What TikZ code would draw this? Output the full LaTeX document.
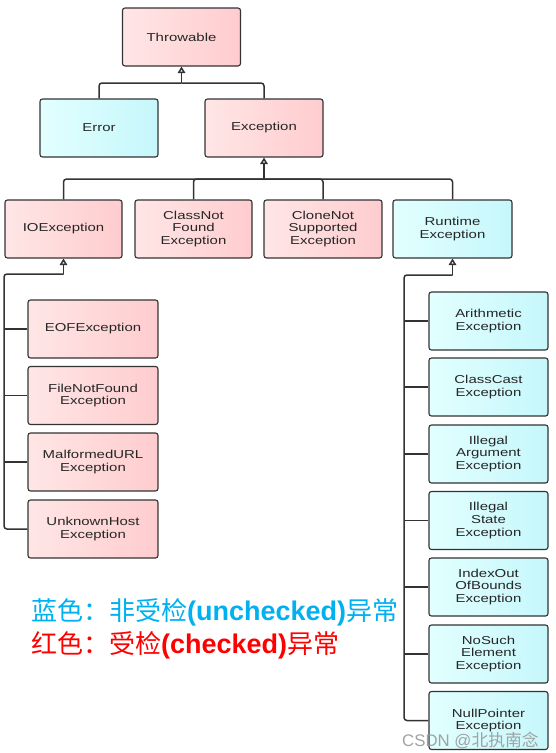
\documentclass[tikz,border=0pt]{standalone}
\usepackage{fontspec}
\setmainfont{Liberation Sans}
\newfontfamily\nodefont{Liberation Sans}[FakeStretch=1.3]
\newfontfamily\legfont{Liberation Sans}
\newfontfamily\cjk{Noto Sans CJK SC}
\usetikzlibrary{arrows.meta}
\definecolor{pinkA}{HTML}{FFE6E6}
\definecolor{pinkB}{HTML}{FFCCCE}
\definecolor{cyanA}{HTML}{E2FFFF}
\definecolor{cyanB}{HTML}{C6F7FB}
\definecolor{edge}{HTML}{333333}
\definecolor{legblue}{HTML}{00B0F0}
\definecolor{legred}{HTML}{FF0000}
\tikzset{
  box/.style={draw=edge, line width=1.1pt, rounded corners=2.5pt, minimum width=#1, minimum height=58pt,
    inner sep=0pt, align=center, text=black!85,
    font=\nodefont\fontsize{11.5}{12.6}\selectfont},
  box/.default=118pt,
  checked/.style={box=#1, left color=pinkA, right color=pinkB},
  checked/.default=118pt,
  unchecked/.style={box=#1, left color=cyanA, right color=cyanB},
  unchecked/.default=118pt,
  conn/.style={draw=edge, line width=1.5pt, rounded corners=3pt},
  inh/.style={conn, -{Triangle[open, width=7.5pt, length=6.5pt, fill=white]}},
}
\begin{document}
\begin{tikzpicture}[x=1pt, y=-1pt]
\useasboundingbox[fill=white] (0,0) rectangle (555,753);
% level 0-1
\node[checked] (throw) at (181.5,37) {Throwable};
\node[unchecked] (error) at (99,128) {Error};
\node[checked] (exc) at (264,128) {Exception};
% level 2
\node[checked=117pt] (io) at (63.5,229) {IOException};
\node[checked=117pt] (cnf) at (193.5,229) {ClassNot\\Found\\Exception};
\node[checked] (cns) at (323,229) {CloneNot\\Supported\\Exception};
\node[unchecked=119pt] (rt) at (452.5,229) {Runtime\\Exception};
% IOException children
\node[checked=130pt] (eof) at (93,329) {EOFException};
\node[checked=130pt] (fnf) at (93,395.5) {FileNotFound\\Exception};
\node[checked=130pt] (murl) at (93,462) {MalformedURL\\Exception};
\node[checked=130pt] (uh) at (93,529) {UnknownHost\\Exception};
% Runtime children
\node[unchecked=119pt] (ar) at (488.5,321) {Arithmetic\\Exception};
\node[unchecked=119pt] (cc) at (488.5,387) {ClassCast\\Exception};
\node[unchecked=119pt] (ia) at (488.5,454) {Illegal\\Argument\\Exception};
\node[unchecked=119pt] (is) at (488.5,520.5) {Illegal\\State\\Exception};
\node[unchecked=119pt] (ioob) at (488.5,587) {IndexOut\\OfBounds\\Exception};
\node[unchecked=119pt] (nse) at (488.5,654) {NoSuch\\Element\\Exception};
\node[unchecked=119pt] (np) at (488.5,720.5) {NullPointer\\Exception};
% junctions
\coordinate (j0) at (181.5,83);
\coordinate (j1) at (264,179);
\coordinate (jio) at (63.5,274);
\coordinate (jiol) at (4,274);
\coordinate (jrt) at (452.5,275);
\coordinate (jrtl) at (404,275);
% Throwable
\draw[conn] (error.north) |- (j0);
\draw[conn] (exc.north) |- (j0);
\draw[inh] (j0) -- (throw.south);
% Exception
\draw[conn] (io.north) |- (j1);
\draw[conn] (cnf.north) |- (j1);
\draw[conn] (cns.north) |- (j1);
\draw[conn] (rt.north) |- (j1);
\draw[inh] (j1) -- (exc.south);
% IOException
\draw[conn] (uh.west) -| (jiol) -- (jio);
\foreach \c in {eof,fnf,murl}{\draw[conn] (\c.west) -- (\c.west -| jiol);}
\draw[inh] (jio) -- (io.south);
% Runtime
\draw[conn] (np.west) -| (jrtl) -- (jrt);
\foreach \c in {ar,cc,ia,is,ioob,nse}{\draw[conn] (\c.west) -- (\c.west -| jrtl);}
\draw[inh] (jrt) -- (rt.south);
% legend
\node[anchor=west, inner sep=0pt, text=legblue] (leg1) at (31,612)
  {\fontsize{26}{26}\selectfont\cjk 蓝色：非受检{\legfont\bfseries\fontsize{27}{27}\selectfont(unchecked)}异常};
\node[anchor=west, inner sep=0pt, text=legred] (leg2) at (31,645)
  {\fontsize{26}{26}\selectfont\cjk 红色：受检{\legfont\bfseries\fontsize{27}{27}\selectfont(checked)}异常};
% watermark
\node[anchor=west, inner sep=0pt, text=black!40, opacity=0.9] (wm) at (402,740)
  {\fontsize{16.8}{16.8}\selectfont CSDN @{\cjk 北执南念}};
\end{tikzpicture}
\end{document}
